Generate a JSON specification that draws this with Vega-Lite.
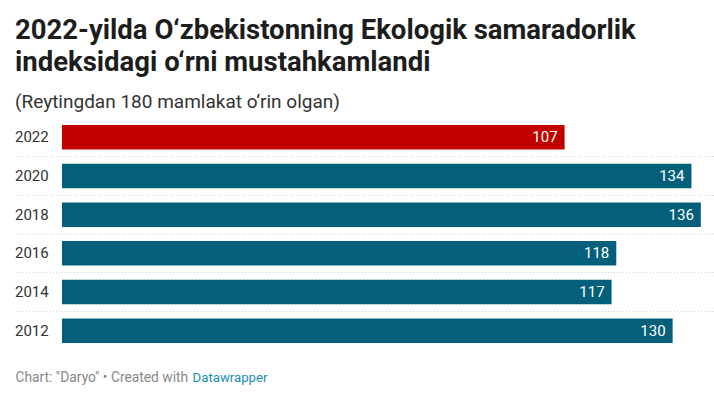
{
  "$schema": "https://vega.github.io/schema/vega-lite/v6.json",
  "autosize": {"type": "none"},
  "padding": {"left": 15, "top": 118, "right": 0, "bottom": 48},
  "width": 699,
  "height": 232,
  "background": "white",
  "title": {
    "text": ["2022-yilda O‘zbekistonning Ekologik samaradorlik", "indeksidagi o‘rni mustahkamlandi"],
    "subtitle": "(Reytingdan 180 mamlakat o‘rin olgan)",
    "anchor": "start",
    "frame": "group",
    "font": "Roboto",
    "fontSize": 27.5,
    "fontWeight": "bold",
    "color": "#1d1d1d",
    "lineHeight": 32,
    "subtitleFont": "Roboto",
    "subtitleFontSize": 19,
    "subtitleColor": "#333333",
    "subtitlePadding": 17,
    "offset": 6
  },
  "config": {"view": {"stroke": null}},
  "data": {
    "values": [
      {"year": "2022", "rank": 107},
      {"year": "2020", "rank": 134},
      {"year": "2018", "rank": 136},
      {"year": "2016", "rank": 118},
      {"year": "2014", "rank": 117},
      {"year": "2012", "rank": 130}
    ]
  },
  "encoding": {
    "y": {
      "field": "year",
      "type": "nominal",
      "sort": ["2022", "2020", "2018", "2016", "2014", "2012"],
      "scale": {"paddingInner": 0.365, "paddingOuter": 0.1825},
      "axis": null
    }
  },
  "layer": [
    {
      "transform": [{"filter": "datum.year != '2012'"}],
      "mark": {"type": "rule", "yOffset": 19.33, "color": "#cccccc", "strokeDash": [1, 2], "strokeWidth": 1},
      "encoding": {}
    },
    {
      "mark": {"type": "bar"},
      "encoding": {
        "x": {
          "field": "rank",
          "type": "quantitative",
          "scale": {"domain": [-10, 138.8], "nice": false, "zero": false},
          "axis": {
            "orient": "bottom",
            "domain": false,
            "ticks": false,
            "grid": false,
            "values": [27.7],
            "labelExpr": "'Datawrapper'",
            "labelAlign": "left",
            "labelBaseline": "alphabetic",
            "labelPadding": 31,
            "labelFont": "Roboto",
            "labelFontSize": 13.2,
            "labelColor": "#1a8db0",
            "title": "Chart: \"Daryo\" • Created with",
            "titleFont": "Roboto",
            "titleFontSize": 13.8,
            "titleFontWeight": "normal",
            "titleColor": "#888888",
            "titleAlign": "left",
            "titleBaseline": "alphabetic",
            "titleAnchor": "start",
            "titleX": 0,
            "titleY": 31
          }
        },
        "x2": {"datum": 0},
        "color": {
          "condition": {"test": "datum.year == '2022'", "value": "#c10000"},
          "value": "#04607a"
        }
      }
    },
    {
      "mark": {"type": "text", "align": "right", "baseline": "middle", "dx": -7, "font": "Roboto", "fontSize": 15, "color": "white"},
      "encoding": {
        "x": {"field": "rank", "type": "quantitative"},
        "text": {"field": "rank", "type": "quantitative"}
      }
    },
    {
      "mark": {"type": "text", "align": "left", "baseline": "middle", "font": "Roboto", "fontSize": 15, "color": "#333333"},
      "encoding": {
        "x": {"datum": -10},
        "text": {"field": "year", "type": "nominal"}
      }
    }
  ]
}
